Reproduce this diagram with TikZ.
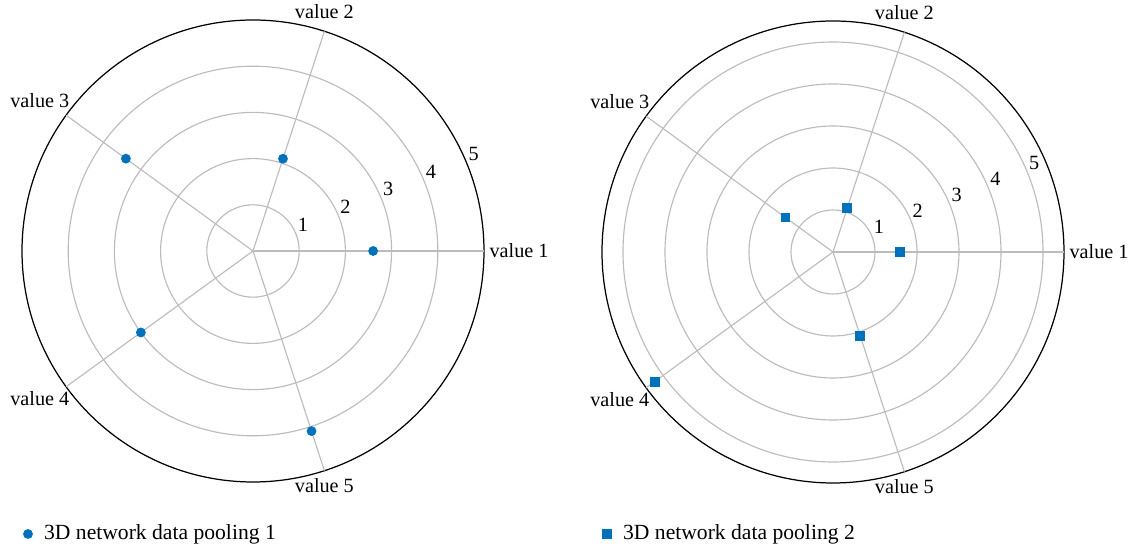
\documentclass[tikz,border=0pt]{standalone}
\usepackage{fontspec}
\setmainfont{Liberation Serif}
\usetikzlibrary{positioning}
\definecolor{poolblue}{RGB}{0,114,188}
\definecolor{ringgray}{RGB}{188,188,188}
\tikzset{
  ring/.style={ringgray, line width=0.65pt},
  rim/.style={black, line width=0.7pt},
  ticklbl/.style={anchor=south west, inner sep=1pt, font=\fontsize{11.5}{13}\selectfont},
  axislbl/.style={inner sep=3pt, font=\fontsize{11.5}{13}\selectfont},
  legendlbl/.style={inner sep=1pt, font=\fontsize{12.3}{14}\selectfont},
  dotmark/.style={circle, fill=poolblue, inner sep=0pt, minimum size=5.6pt},
  sqmark/.style={rectangle, fill=poolblue, inner sep=0pt, minimum size=5.6pt}
}

\begin{document}
\begin{tikzpicture}[x=0.02cm, y=0.02cm]
    \useasboundingbox (-253,-299) rectangle (884,251);

    % Left chart: grid
    \begin{scope}
        \foreach \r in {1,...,4} \draw[ring] (0,0) circle (\r*46.2);
        \draw[rim] (0,0) circle (231);
        \foreach \a in {0,72,...,288} \draw[ring] (0,0) -- (\a:231);
        \foreach \r in {1,...,5} \node[ticklbl] (L-t\r) at (22.5:\r*46.2) {\r};
        \node[axislbl, anchor=west] (L-v1) at (0:231) {value 1};
        \node[axislbl, anchor=south, yshift=4pt] (L-v2) at (72:231) {value 2};
        \node[axislbl, anchor=south east, inner sep=1pt, xshift=3pt, yshift=3pt] (L-v3) at (144:231) {value 3};
        \node[axislbl, anchor=north east, inner sep=1pt, xshift=3pt, yshift=-1.5pt] (L-v4) at (216:231) {value 4};
        \node[axislbl, anchor=north, yshift=-1.5pt] (L-v5) at (288:231) {value 5};
        % data points
        \foreach \a/\v [count=\i] in {0/2.6, 72/2.1, 144/3.4, 216/3.0, 288/4.1}
            \node[dotmark] (L-p\i) at (\a:\v*46.2) {};
    \end{scope}

    % Right chart: grid
    \begin{scope}[shift={(580,-1)}]
        \foreach \r in {1,...,5} \draw[ring] (0,0) circle (\r*42);
        \draw[rim] (0,0) circle (231);
        \foreach \a in {0,72,...,288} \draw[ring] (0,0) -- (\a:231);
        \foreach \r in {1,...,5} \node[ticklbl] (R-t\r) at (22.5:\r*42) {\r};
        \node[axislbl, anchor=west] (R-v1) at (0:231) {value 1};
        \node[axislbl, anchor=south, yshift=4pt] (R-v2) at (72:231) {value 2};
        \node[axislbl, anchor=south east, inner sep=1pt, xshift=3pt, yshift=3pt] (R-v3) at (144:231) {value 3};
        \node[axislbl, anchor=north east, inner sep=1pt, xshift=3pt, yshift=-1.5pt] (R-v4) at (216:231) {value 4};
        \node[axislbl, anchor=north, yshift=-1.5pt] (R-v5) at (288:231) {value 5};
        % data points
        \foreach \a/\v [count=\i] in {0/1.6, 72/1.1, 144/1.4, 216/5.25, 288/2.1}
            \node[sqmark] (R-p\i) at (\a:\v*42) {};
    \end{scope}

    % Legend
    \node[dotmark] (leg1) at (-225,-283) {};
    \node[legendlbl, right=5pt of leg1] (leg1-txt) {3D network data pooling 1};
    \node[sqmark] (leg2) at (354,-283) {};
    \node[legendlbl, right=5pt of leg2] (leg2-txt) {3D network data pooling 2};
\end{tikzpicture}
\end{document}
